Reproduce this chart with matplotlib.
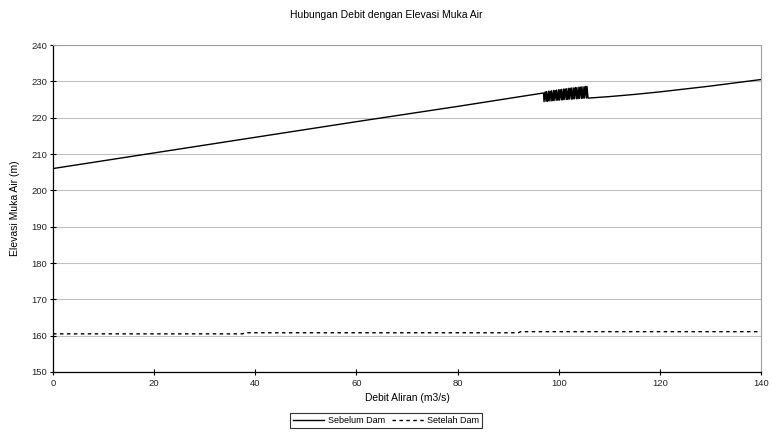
import matplotlib
matplotlib.use("Agg")
import matplotlib.pyplot as plt

plt.rcParams['font.family'] = ['Liberation Sans', 'DejaVu Sans']

# Sebelum Dam (before dam)
sebelum_x = [0, 20, 40, 60, 80, 97.0,
             97.1, 97.3, 97.5, 97.6, 97.8, 98.0, 98.1, 98.3, 98.5, 98.6,
             98.8, 99.0, 99.1, 99.3, 99.5, 99.6, 99.8, 100.0, 100.1, 100.3,
             100.5, 100.6, 100.8, 101.0, 101.1, 101.3, 101.5, 101.6, 101.8, 102.0,
             102.1, 102.3, 102.5, 102.6, 102.8, 103.0, 103.1, 103.3, 103.5, 103.6,
             103.8, 104.0, 104.1, 104.3, 104.5, 104.6, 104.8, 105.0, 105.1, 105.3,
             105.5, 105.6, 105.8, 106.0,
             110, 115, 120, 125, 130, 135, 140]
sebelum_y = [206.0, 210.3, 214.6, 218.9, 223.1, 226.8,
             224.4, 227.1, 224.5, 227.2, 224.5, 227.3, 224.6, 227.3, 224.6, 227.4,
             224.7, 227.5, 224.7, 227.5, 224.8, 227.6, 224.8, 227.7, 224.8, 227.7,
             224.9, 227.8, 224.9, 227.9, 225.0, 227.9, 225.0, 228.0, 225.0, 228.1,
             225.1, 228.1, 225.1, 228.2, 225.1, 228.2, 225.2, 228.3, 225.2, 228.3,
             225.2, 228.4, 225.3, 228.4, 225.3, 228.5, 225.3, 228.5, 225.4, 228.6,
             225.4, 228.6, 225.4, 225.4,
             225.8, 226.4, 227.1, 227.9, 228.7, 229.6, 230.5]

# Setelah Dam (after dam)
setelah_x = [0, 37.5, 38.0, 92.0, 92.5, 140]
setelah_y = [160.5, 160.5, 160.8, 160.8, 161.1, 161.1]

x_ticks = [0, 20, 40, 60, 80, 100, 120, 140]
y_ticks = [150, 160, 170, 180, 190, 200, 210, 220, 230, 240]

fig = plt.figure(figsize=(7.72, 4.32), dpi=100)
ax = fig.add_axes([0.0687, 0.1389, 0.9170, 0.7569])

ax.plot(sebelum_x, sebelum_y, color='black', linewidth=1.0, label='Sebelum Dam')
ax.plot(setelah_x, setelah_y, color='black', linewidth=1.0, linestyle=(0, (2.5, 2.5)),
        label='Setelah Dam')

ax.set_xlim(0, 140)
ax.set_ylim(150, 240)
ax.set_xticks(x_ticks)
ax.set_yticks(y_ticks)
ax.yaxis.grid(True, color='#c0c0c0', linewidth=0.8)
ax.set_axisbelow(True)

ax.tick_params(axis='both', labelsize=6.8, direction='inout', length=4, width=0.8,
               colors='black', labelcolor='#222222')
ax.tick_params(axis='y', pad=2)
ax.tick_params(axis='x', pad=3)
for s in ['left', 'bottom']:
    ax.spines[s].set_color('black')
    ax.spines[s].set_linewidth(0.9)
for s in ['top', 'right']:
    ax.spines[s].set_color('#a0a0a0')
    ax.spines[s].set_linewidth(0.8)

ax.set_xlabel('Debit Aliran (m3/s)', fontsize=7.4, labelpad=4)
ax.set_ylabel('Elevasi Muka Air (m)', fontsize=7.5, labelpad=8)
fig.suptitle('Hubungan Debit dengan Elevasi Muka Air', fontsize=7.5, y=0.978)

leg = fig.legend(loc='center', bbox_to_anchor=(0.5, 0.027), ncol=2, fontsize=6.5,
                 frameon=True, fancybox=False, edgecolor='black',
                 handlelength=3.5, columnspacing=0.8, handletextpad=0.4,
                 borderpad=0.3)
leg.get_frame().set_linewidth(0.8)

fig.savefig('out.png', dpi=100)
